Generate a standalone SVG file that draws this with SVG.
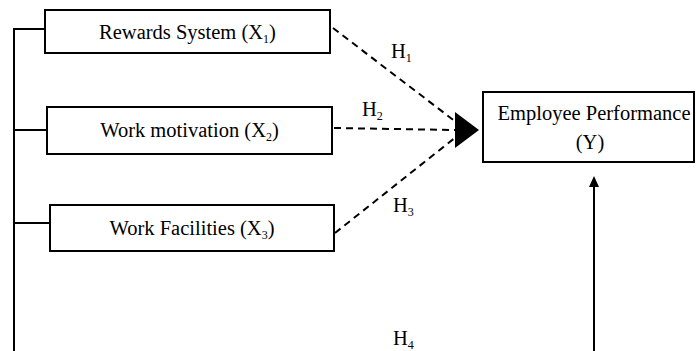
<svg xmlns="http://www.w3.org/2000/svg" width="697" height="351" viewBox="0 0 697 351">
<style>
.box{fill:#fff;stroke:#000;stroke-width:2}
.t{font-family:"Liberation Serif","Times New Roman",serif;font-size:20.5px;fill:#000}
.s{font-size:12px}
.solid{fill:none;stroke:#000;stroke-width:2}
.dash{fill:none;stroke:#000;stroke-width:2;stroke-dasharray:7 5}
</style>
<g id="connectors">
<path class="solid" d="M14,351 V29 H45"/>
<path class="solid" d="M14,130 H47"/>
<path class="solid" d="M14,223 H50"/>
<path class="dash" d="M333,28 L456,122"/>
<path class="dash" d="M334,128 L456,130"/>
<path class="dash" d="M335,233 L456,137"/>
<path d="M455,112 L479,130 L455,148 Z" fill="#000"/>
<path class="solid" d="M594,351 V185"/>
<path d="M594,176 L599,187 L589,187 Z" fill="#000"/>
<text class="t" x="391" y="58">H<tspan class="s" dy="4">1</tspan></text>
<text class="t" x="362" y="116">H<tspan class="s" dy="4">2</tspan></text>
<text class="t" x="393" y="212">H<tspan class="s" dy="4">3</tspan></text>
<text class="t" x="393" y="345">H<tspan class="s" dy="4">4</tspan></text>
</g>
<g id="x1">
<rect class="box" x="45" y="10" width="285" height="43"/>
<text class="t" x="187.5" y="39" text-anchor="middle">Rewards System (X<tspan class="s" dy="4">1</tspan><tspan dy="-4">)</tspan></text>
</g>
<g id="x2">
<rect class="box" x="47" y="107" width="285" height="47"/>
<text class="t" x="189.5" y="137" text-anchor="middle">Work motivation (X<tspan class="s" dy="4">2</tspan><tspan dy="-4">)</tspan></text>
</g>
<g id="x3">
<rect class="box" x="50" y="205" width="284" height="46"/>
<text class="t" x="192" y="235" text-anchor="middle">Work Facilities (X<tspan class="s" dy="4">3</tspan><tspan dy="-4">)</tspan></text>
</g>
<g id="y">
<rect class="box" x="483" y="92" width="211" height="70"/>
<text class="t" x="594" y="120" text-anchor="middle">Employee Performance</text>
<text class="t" x="590" y="149" text-anchor="middle">(Y)</text>
</g>
</svg>
